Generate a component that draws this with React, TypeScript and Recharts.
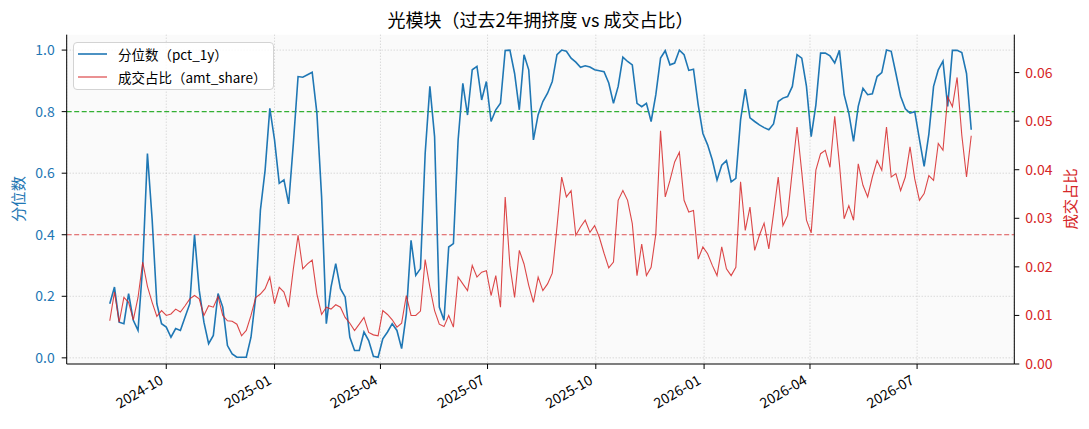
import { CartesianGrid, Line, LineChart, ReferenceLine, XAxis, YAxis } from 'recharts'

// sampled every 4 calendar days
const dates = [
  '2024-08-14', '2024-08-18', '2024-08-22', '2024-08-26', '2024-08-30',
  '2024-09-03', '2024-09-07', '2024-09-11', '2024-09-15', '2024-09-19', '2024-09-23', '2024-09-27',
  '2024-10-01', '2024-10-05', '2024-10-09', '2024-10-13', '2024-10-17', '2024-10-21', '2024-10-25', '2024-10-29',
  '2024-11-02', '2024-11-06', '2024-11-10', '2024-11-14', '2024-11-18', '2024-11-22', '2024-11-26', '2024-11-30',
  '2024-12-04', '2024-12-08', '2024-12-12', '2024-12-16', '2024-12-20', '2024-12-24', '2024-12-28',
  '2025-01-01', '2025-01-05', '2025-01-09', '2025-01-13', '2025-01-17', '2025-01-21', '2025-01-25', '2025-01-29',
  '2025-02-02', '2025-02-06', '2025-02-10', '2025-02-14', '2025-02-18', '2025-02-22', '2025-02-26',
  '2025-03-02', '2025-03-06', '2025-03-10', '2025-03-14', '2025-03-18', '2025-03-22', '2025-03-26', '2025-03-30',
  '2025-04-03', '2025-04-07', '2025-04-11', '2025-04-15', '2025-04-19', '2025-04-23', '2025-04-27',
  '2025-05-01', '2025-05-05', '2025-05-09', '2025-05-13', '2025-05-17', '2025-05-21', '2025-05-25', '2025-05-29',
  '2025-06-02', '2025-06-06', '2025-06-10', '2025-06-14', '2025-06-18', '2025-06-22', '2025-06-26', '2025-06-30',
  '2025-07-04', '2025-07-08', '2025-07-12', '2025-07-16', '2025-07-20', '2025-07-24', '2025-07-28',
  '2025-08-01', '2025-08-05', '2025-08-09', '2025-08-13', '2025-08-17', '2025-08-21', '2025-08-25', '2025-08-29',
  '2025-09-02', '2025-09-06', '2025-09-10', '2025-09-14', '2025-09-18', '2025-09-22', '2025-09-26', '2025-09-30',
  '2025-10-04', '2025-10-08', '2025-10-12', '2025-10-16', '2025-10-20', '2025-10-24', '2025-10-28',
  '2025-11-01', '2025-11-05', '2025-11-09', '2025-11-13', '2025-11-17', '2025-11-21', '2025-11-25', '2025-11-29',
  '2025-12-03', '2025-12-07', '2025-12-11', '2025-12-15', '2025-12-19', '2025-12-23', '2025-12-27', '2025-12-31',
  '2026-01-04', '2026-01-08', '2026-01-12', '2026-01-16', '2026-01-20', '2026-01-24', '2026-01-28',
  '2026-02-01', '2026-02-05', '2026-02-09', '2026-02-13', '2026-02-17', '2026-02-21', '2026-02-25',
  '2026-03-01', '2026-03-05', '2026-03-09', '2026-03-13', '2026-03-17', '2026-03-21', '2026-03-25', '2026-03-29',
  '2026-04-02', '2026-04-06', '2026-04-10', '2026-04-14', '2026-04-18', '2026-04-22', '2026-04-26', '2026-04-30',
  '2026-05-04', '2026-05-08', '2026-05-12', '2026-05-16', '2026-05-20', '2026-05-24', '2026-05-28',
  '2026-06-01', '2026-06-05', '2026-06-09', '2026-06-13', '2026-06-17', '2026-06-21', '2026-06-25', '2026-06-29',
  '2026-07-03', '2026-07-07', '2026-07-11', '2026-07-15', '2026-07-19', '2026-07-23', '2026-07-27', '2026-07-31',
  '2026-08-04', '2026-08-08', '2026-08-12', '2026-08-16',
]

const pct1y = [
  0.176, 0.23, 0.116, 0.111, 0.209,
  0.122, 0.089, 0.3, 0.664, 0.45, 0.176, 0.111,
  0.1, 0.067, 0.095, 0.089, 0.133, 0.176, 0.4, 0.22,
  0.116, 0.046, 0.073, 0.209, 0.165, 0.04, 0.013, 0.002,
  0.002, 0.002, 0.067, 0.198, 0.48, 0.61, 0.811,
  0.708, 0.567, 0.578, 0.5, 0.697, 0.914, 0.912, 0.92,
  0.928, 0.795, 0.523, 0.111, 0.23, 0.306, 0.225,
  0.198, 0.067, 0.024, 0.024, 0.084, 0.056, 0.005, 0.002,
  0.062, 0.084, 0.111, 0.089, 0.03, 0.143, 0.382,
  0.268, 0.29, 0.664, 0.882, 0.719, 0.165, 0.122, 0.36,
  0.371, 0.708, 0.892, 0.789, 0.936, 0.947, 0.838, 0.898,
  0.768, 0.806, 0.827, 0.999, 1.0, 0.924, 0.806,
  0.985, 0.936, 0.708, 0.79, 0.833, 0.86, 0.898, 0.985,
  1.0, 0.996, 0.974, 0.961, 0.944, 0.949, 0.945, 0.936,
  0.933, 0.93, 0.893, 0.827, 0.882, 0.977, 0.963,
  0.952, 0.827, 0.816, 0.827, 0.768, 0.855, 0.974, 0.998,
  0.952, 0.958, 1.0, 0.985, 0.934, 0.938, 0.822, 0.729,
  0.692, 0.643, 0.578, 0.626, 0.641, 0.572, 0.583,
  0.773, 0.873, 0.78, 0.768, 0.757, 0.748, 0.741,
  0.76, 0.833, 0.844, 0.849, 0.882, 0.985, 0.974, 0.882,
  0.719, 0.822, 0.99, 0.99, 0.981, 0.958, 0.999, 0.855,
  0.795, 0.703, 0.817, 0.876, 0.855, 0.858, 0.914,
  0.927, 1.0, 0.996, 0.924, 0.85, 0.809, 0.795, 0.8,
  0.71, 0.622, 0.727, 0.882, 0.936, 0.964, 0.817, 0.999,
  0.999, 0.992, 0.924, 0.741,
]

const amtShare = [
  0.0089, 0.0148, 0.0086, 0.0137, 0.0127,
  0.0091, 0.0137, 0.021, 0.016, 0.0127, 0.0098, 0.011,
  0.01, 0.0103, 0.0113, 0.0107, 0.012, 0.0134, 0.0141, 0.0134,
  0.01, 0.012, 0.0117, 0.0139, 0.01, 0.0089, 0.0088, 0.0082,
  0.0058, 0.0069, 0.01, 0.0137, 0.0144, 0.0155, 0.0179,
  0.0124, 0.0158, 0.0148, 0.0117, 0.0196, 0.0265, 0.0196, 0.0206,
  0.0214, 0.0144, 0.0102, 0.0117, 0.0113, 0.0122, 0.0117,
  0.0096, 0.0084, 0.0069, 0.0082, 0.0096, 0.0065, 0.006, 0.0058,
  0.011, 0.0102, 0.0091, 0.0076, 0.0084, 0.0141, 0.01,
  0.01, 0.0109, 0.0215, 0.0158, 0.011, 0.0082, 0.0077, 0.01,
  0.0076, 0.0179, 0.0165, 0.0151, 0.0203, 0.0179, 0.0189, 0.0192,
  0.0141, 0.0182, 0.0117, 0.0344, 0.0203, 0.0137, 0.0234,
  0.0206, 0.0162, 0.0127, 0.0179, 0.0151, 0.0165, 0.0187, 0.0282,
  0.0385, 0.0344, 0.0357, 0.0265, 0.0282, 0.0296, 0.0271, 0.0285,
  0.0261, 0.0228, 0.0198, 0.021, 0.0337, 0.0357, 0.0337,
  0.0289, 0.0182, 0.0247, 0.0182, 0.0199, 0.0268, 0.048, 0.0344,
  0.0378, 0.0416, 0.0436, 0.0337, 0.0313, 0.0316, 0.0216, 0.0241,
  0.0227, 0.0203, 0.0182, 0.0241, 0.0196, 0.0182, 0.0199,
  0.0375, 0.0275, 0.0323, 0.0234, 0.0265, 0.029, 0.0237,
  0.0309, 0.0385, 0.0285, 0.0306, 0.0399, 0.0488, 0.0395, 0.0296,
  0.027, 0.0399, 0.0433, 0.044, 0.0405, 0.051, 0.0412, 0.0299,
  0.0326, 0.0296, 0.0412, 0.0368, 0.0344, 0.0385, 0.0419,
  0.0399, 0.0488, 0.0385, 0.0392, 0.0357, 0.0385, 0.0447, 0.0381,
  0.0337, 0.0351, 0.0388, 0.0378, 0.0454, 0.044, 0.055, 0.053,
  0.059, 0.0471, 0.0385, 0.047,
]

const monthTicks = [
  '2024-10-01', '2025-01-01', '2025-04-01', '2025-07-01',
  '2025-10-01', '2026-01-01', '2026-04-01', '2026-07-01',
]
const pctTicks = [0, 0.2, 0.4, 0.6, 0.8, 1.0]
const shareTicks = [0, 0.01, 0.02, 0.03, 0.04, 0.05, 0.06]
const highLine = 0.8
const lowLine = 0.4

const BLUE = '#1f77b4'
const RED = '#d62728'
const GREEN = '#33b033'
const FONT = '"Noto Sans CJK SC", "DejaVu Sans", sans-serif'

const rows = dates.map((d, i) => ({ t: Date.parse(d), pct: pct1y[i], amt: amtShare[i] }))
const tFirst = rows[0].t
const tLast = rows[rows.length - 1].t
const tPad = (tLast - tFirst) * 0.05
const xDomain = [tFirst - tPad, tLast + tPad]
// grid rows hidden under the two dashed threshold lines
const gridRows = pctTicks.filter((v) => v !== highLine && v !== lowLine)

function fmtMonth(t: number) {
  const d = new Date(t)
  return `${d.getUTCFullYear()}-${String(d.getUTCMonth() + 1).padStart(2, '0')}`
}

function DateTick({ x, y, payload }: any) {
  const tx = x - 2
  const ty = y + 12
  return (
    <text
      x={tx}
      y={ty}
      transform={`rotate(-30 ${tx} ${ty})`}
      textAnchor="end"
      fontSize={14}
      fontFamily={FONT}
      fill="#000"
    >
      {fmtMonth(payload.value)}
    </text>
  )
}

function LegendBox() {
  const item = (top: number, color: string, width: number, opacity: number, label: string) => (
    <div style={{ position: 'absolute', left: 0, top, height: 20, width: '100%' }}>
      <svg width={40} height={20} style={{ position: 'absolute', left: 0, top: 0 }}>
        <line x1={4} x2={33} y1={10} y2={10} stroke={color} strokeWidth={width} strokeOpacity={opacity} />
      </svg>
      <span style={{ position: 'absolute', left: 44, top: 0, lineHeight: '20px', fontSize: 13.5, whiteSpace: 'nowrap' }}>
        {label}
      </span>
    </div>
  )
  return (
    <div
      style={{
        position: 'absolute',
        left: 73,
        top: 42,
        width: 201,
        height: 48,
        boxSizing: 'border-box',
        border: '1px solid #d3d3d3',
        borderRadius: 4,
        background: 'rgba(255,255,255,0.85)',
        fontFamily: FONT,
      }}
    >
      {item(1, BLUE, 1.6, 1, '分位数（pct_1y）')}
      {item(24, RED, 1.2, 0.85, '成交占比（amt_share）')}
    </div>
  )
}

export default function App() {
  return (
    <div style={{ position: 'absolute', left: 0, top: 0, width: 1089, height: 429, background: '#fff', fontFamily: FONT }}>
      <div
        style={{
          position: 'absolute',
          left: 66.7,
          width: 947.6,
          top: 6,
          textAlign: 'center',
          fontSize: 18,
          lineHeight: '26px',
          color: '#000',
        }}
      >
        光模块（过去2年拥挤度 vs 成交占比）
      </div>

      <LineChart width={1089} height={429} data={rows} margin={{ top: 34.7, right: 14.7, bottom: 0, left: 6.7 }}>
        <CartesianGrid
          yAxisId="left"
          horizontalValues={gridRows}
          fill="#fafafa"
          fillOpacity={1}
          stroke="#b8b8b8"
          strokeOpacity={0.7}
          strokeDasharray="1 2"
        />
        <XAxis
          dataKey="t"
          type="number"
          domain={xDomain}
          allowDataOverflow
          ticks={monthTicks.map((d) => Date.parse(d))}
          interval={0}
          tick={<DateTick />}
          tickSize={5}
          tickLine={{ stroke: '#000' }}
          axisLine={{ stroke: '#000' }}
          height={65}
        />
        <XAxis
          xAxisId="top"
          orientation="top"
          dataKey="t"
          type="number"
          domain={xDomain}
          allowDataOverflow
          tick={false}
          tickLine={false}
          axisLine={{ stroke: '#000' }}
          height={0}
        />
        <YAxis
          yAxisId="left"
          domain={[-0.02, 1.05]}
          allowDataOverflow
          ticks={pctTicks}
          interval={0}
          tickFormatter={(v: number) => v.toFixed(1)}
          tick={{ fill: BLUE, fontSize: 14, fontFamily: FONT }}
          tickSize={5}
          tickMargin={7}
          tickLine={{ stroke: '#000' }}
          axisLine={{ stroke: '#000' }}
          width={60}
        />
        <YAxis
          yAxisId="right"
          orientation="right"
          domain={[0, 0.0678]}
          allowDataOverflow
          ticks={shareTicks}
          interval={0}
          tickFormatter={(v: number) => v.toFixed(2)}
          tick={{ fill: RED, fontSize: 14, fontFamily: FONT }}
          tickSize={5}
          tickMargin={6}
          tickLine={{ stroke: '#000' }}
          axisLine={{ stroke: '#000' }}
          width={60}
        />
        <ReferenceLine yAxisId="left" y={highLine} stroke={GREEN} strokeWidth={1.2} strokeDasharray="5 2.5" />
        <ReferenceLine yAxisId="left" y={lowLine} stroke={RED} strokeOpacity={0.8} strokeDasharray="5 2.5" />
        <Line
          yAxisId="left"
          dataKey="pct"
          type="linear"
          stroke={BLUE}
          strokeWidth={1.6}
          dot={false}
          isAnimationActive={false}
        />
        <Line
          yAxisId="right"
          dataKey="amt"
          type="linear"
          stroke={RED}
          strokeOpacity={0.85}
          strokeWidth={1.1}
          dot={false}
          isAnimationActive={false}
        />
      </LineChart>

      <LegendBox />

      <div
        style={{
          position: 'absolute',
          left: 17,
          top: 199,
          transform: 'translate(-50%, -50%) rotate(-90deg)',
          whiteSpace: 'nowrap',
          fontSize: 15.3,
          color: BLUE,
        }}
      >
        分位数
      </div>
      <div
        style={{
          position: 'absolute',
          left: 1069,
          top: 199,
          transform: 'translate(-50%, -50%) rotate(-90deg)',
          whiteSpace: 'nowrap',
          fontSize: 15.3,
          color: RED,
        }}
      >
        成交占比
      </div>
    </div>
  )
}
